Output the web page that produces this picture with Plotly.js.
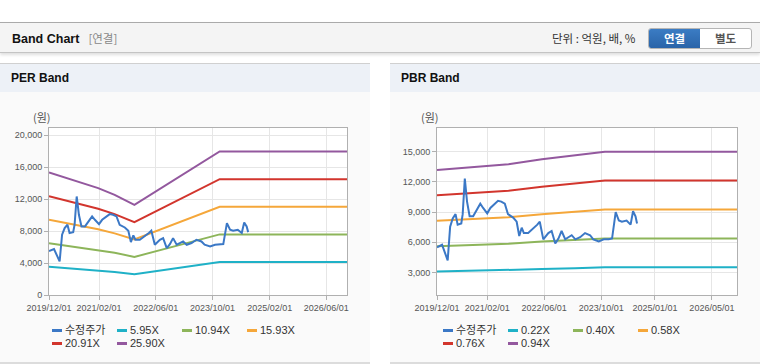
<!DOCTYPE html>
<html><head><meta charset="utf-8">
<script src="https://cdn.plot.ly/plotly-3.0.1.min.js"></script>
<style>
body{margin:0;width:760px;height:364px;overflow:hidden;background:#fff;font-family:"Liberation Sans","Noto Sans CJK KR",sans-serif;position:relative}
#hdr{position:absolute;left:0;top:22px;width:760px;height:29px;background:#f4f4f4;border-top:1px solid #aaa;border-bottom:1px solid #c4c4c4;box-shadow:0 2px 3px rgba(0,0,0,0.13)}
#hdrTitle{position:absolute;left:12px;top:0;line-height:30px;font-weight:bold;font-size:12.5px;color:#111}
#hdrTitle span{font-weight:normal;color:#888;margin-left:9px;font-family:"Noto Sans CJK KR","Liberation Sans",sans-serif;font-size:11.5px}
#unit{position:absolute;left:552px;top:0;line-height:30px;font-size:11.5px;color:#333;font-family:"Noto Sans CJK KR","Liberation Sans",sans-serif}
#btns{position:absolute;left:648px;top:5px;width:102px;height:19px;border:1px solid #b5b5b5;border-radius:3px;overflow:hidden;background:#fff;font-family:"Noto Sans CJK KR",sans-serif;font-size:11.5px;font-weight:bold}
#btns div{position:absolute;top:0;height:19px;line-height:19px;text-align:center}
#b1{left:0;width:51px;background:linear-gradient(#3b7cc4,#2a64a8);color:#fff}
#b2{left:51px;width:51px;color:#555}
.panel{position:absolute;top:63px;height:298px;background:#fafafa;border-top:1px solid #d0d0d0;border-bottom:2px solid #dcdcdc}
.ptitle{height:28px;background:#edf1f7;line-height:29px;font-weight:bold;font-size:12px;color:#111;padding-left:11px}
.chart{position:absolute;top:93px;width:370px;height:230px}
.unitlbl{position:absolute;top:109px;font-size:11px;color:#555;font-family:"Noto Sans CJK KR",sans-serif}
.leg{position:absolute;font-size:11px;color:#333;font-family:"Liberation Sans","Noto Sans CJK KR",sans-serif}
.leg .it{position:absolute;white-space:nowrap;height:13px;line-height:13px}
.leg .mk{position:absolute;left:0;top:5px;width:10px;height:3px}
.leg .tx{position:absolute;left:13px;top:0}
</style></head>
<body>
<div id="hdr"><div id="hdrTitle">Band Chart<span>[연결]</span></div>
<div id="unit">단위 : 억원, 배, %</div>
<div id="btns"><div id="b1">연결</div><div id="b2">별도</div></div></div>
<div class="panel" style="left:0;width:370px"><div class="ptitle">PER Band</div></div>
<div class="panel" style="left:390px;width:370px"><div class="ptitle">PBR Band</div></div>
<div class="unitlbl" style="left:33px">(원)</div>
<div class="unitlbl" style="left:421px">(원)</div>
<div id="per" class="chart" style="left:0"></div>
<div id="pbr" class="chart" style="left:390px"></div>
<div id="perLeg" class="leg" style="left:52px;top:324px"></div>
<div id="pbrLeg" class="leg" style="left:443px;top:324px"></div>
<script>
// ---- price (수정주가) ----
const priceDates = ['2019-12-01','2020-01-13','2020-03-01','2020-03-22','2020-04-13','2020-05-07','2020-05-25','2020-06-25','2020-07-07','2020-07-25','2020-08-13','2020-09-04','2020-10-04','2020-11-01','2020-12-04','2020-12-28','2021-02-01','2021-02-28','2021-04-07','2021-05-04','2021-06-01','2021-07-01','2021-07-28','2021-09-10','2021-10-10','2021-11-01','2021-11-22','2021-12-10','2022-01-16','2022-02-28','2022-04-04','2022-04-25','2022-05-25','2022-07-07','2022-08-04','2022-09-04','2022-10-01','2022-10-28','2022-11-28','2022-12-25','2023-01-22','2023-02-22','2023-04-04','2023-05-16','2023-06-28','2023-07-25','2023-09-10','2023-10-22','2023-12-04','2024-01-01','2024-02-01','2024-02-28','2024-03-25','2024-05-04','2024-06-07','2024-06-28','2024-07-19','2024-08-01'];
const priceValues = [5500,5750,4200,7540,8370,8790,7750,7870,8790,12330,10040,8580,8580,9210,9830,9410,8870,9410,9830,10120,10040,9830,8790,8450,8040,6620,7450,6910,6910,7330,7750,8040,6290,6910,7120,5870,6370,7120,6290,6500,6700,6290,6500,6910,6700,6290,6080,6290,6290,6370,9000,8160,8040,8160,7750,9080,8580,7870];

// ---- PER bands ----
const perBandDates = ['2019-12-01','2020-03-15','2020-08-05','2021-01-25','2021-06-15','2021-12-01','2023-12-01','2026-12-31'];
const per595  = [3522,3407,3262,3071,2881,2594,4126,4126];
const per1094 = [6475,6264,5998,5647,5297,4769,7586,7586];
const per1593 = [9429,9122,8734,8223,7713,6944,11046,11046];
const per2091 = [12377,11973,11465,10794,10125,9115,14499,14499];
const per2590 = [15330,14830,14200,13370,12540,11290,17960,17960];
const perNames = ['수정주가','5.95X','10.94X','15.93X','20.91X','25.90X'];

// ---- PBR bands ----
const pbrBandDates = ['2019-12-01','2020-08-10','2021-08-01','2022-05-13','2023-02-20','2023-11-01','2026-12-31'];
const pbr022 = [3087,3141,3218,3335,3419,3511,3511];
const pbr040 = [5613,5711,5851,6064,6217,6383,6383];
const pbr058 = [8139,8281,8484,8793,9015,9255,9255];
const pbr076 = [10664,10851,11117,11522,11813,12127,12127];
const pbr094 = [13190,13420,13750,14250,14610,15000,15000];
const pbrNames = ['수정주가','0.22X','0.40X','0.58X','0.76X','0.94X'];

// ---- axes ticks ----
const perXTickVals = ['2019-12-01','2021-02-01','2022-06-01','2023-10-01','2025-02-01','2026-06-01'];
const perXTickText = ['2019/12/01','2021/02/01','2022/06/01','2023/10/01','2025/02/01','2026/06/01'];
const pbrXTickVals = ['2019-12-01','2021-02-01','2022-06-01','2023-10-01','2025-01-01','2026-05-01'];
const pbrXTickText = ['2019/12/01','2021/02/01','2022/06/01','2023/10/01','2025/01/01','2026/05/01'];
const perYTicks = [0,4000,8000,12000,16000,20000];
const pbrYTicks = [3000,6000,9000,12000,15000];

const colors = ['#3b78c6','#1fb1c7','#8db55a','#f5a73a','#d2352d','#93589e'];

function tracesFor(bandDates, bands){
  const t = [];
  bands.forEach((b,i)=>t.push({x:bandDates,y:b,type:'scatter',mode:'lines',line:{color:colors[i+1],width:2},hoverinfo:'skip'}));
  t.push({x:priceDates,y:priceValues,type:'scatter',mode:'lines',line:{color:colors[0],width:2},hoverinfo:'skip'});
  return t;
}
const tickFont = {family:'Liberation Sans, sans-serif',size:9,color:'#555'};
function layoutFor(xvals,xtext,xrange,yticks,yrange,l){
  return {
    width:370,height:230,margin:{l:l,r:23,t:35,b:28},
    paper_bgcolor:'rgba(0,0,0,0)',plot_bgcolor:'#fff',showlegend:false,
    xaxis:{type:'date',range:xrange,tickmode:'array',tickvals:xvals,ticktext:xtext,tickangle:0,
      showgrid:true,gridcolor:'#e6e6e6',showline:true,linecolor:'#b0b0b0',mirror:true,
      ticks:'outside',ticklen:4,tickcolor:'#b0b0b0',tickfont:tickFont,zeroline:false},
    yaxis:{range:yrange,tickmode:'array',tickvals:yticks,tickformat:',d',
      showgrid:true,gridcolor:'#e6e6e6',showline:true,linecolor:'#b0b0b0',mirror:true,
      ticks:'outside',ticklen:4,tickcolor:'#b0b0b0',tickfont:tickFont,zeroline:false}
  };
}
Plotly.newPlot('per',tracesFor(perBandDates,[per595,per1094,per1593,per2091,per2590]),
  layoutFor(perXTickVals,perXTickText,['2019-12-01','2026-11-25'],perYTicks,[0,20900],49),{displayModeBar:false,staticPlot:true});
Plotly.newPlot('pbr',tracesFor(pbrBandDates,[pbr022,pbr040,pbr058,pbr076,pbr094]),
  layoutFor(pbrXTickVals,pbrXTickText,['2019-12-01','2026-12-01'],pbrYTicks,[760,17350],47),{displayModeBar:false,staticPlot:true});

function legend(id,names){
  const el=document.getElementById(id);
  names.forEach((n,i)=>{
    const d=document.createElement('div');d.className='it';
    d.style.left=(i%4)*65+'px';d.style.top=(Math.floor(i/4)*13)+'px';
    d.innerHTML='<div class="mk" style="background:'+colors[i]+'"></div><div class="tx">'+n+'</div>';
    el.appendChild(d);
  });
}
legend('perLeg',perNames);legend('pbrLeg',pbrNames);
</script>
</body></html>
